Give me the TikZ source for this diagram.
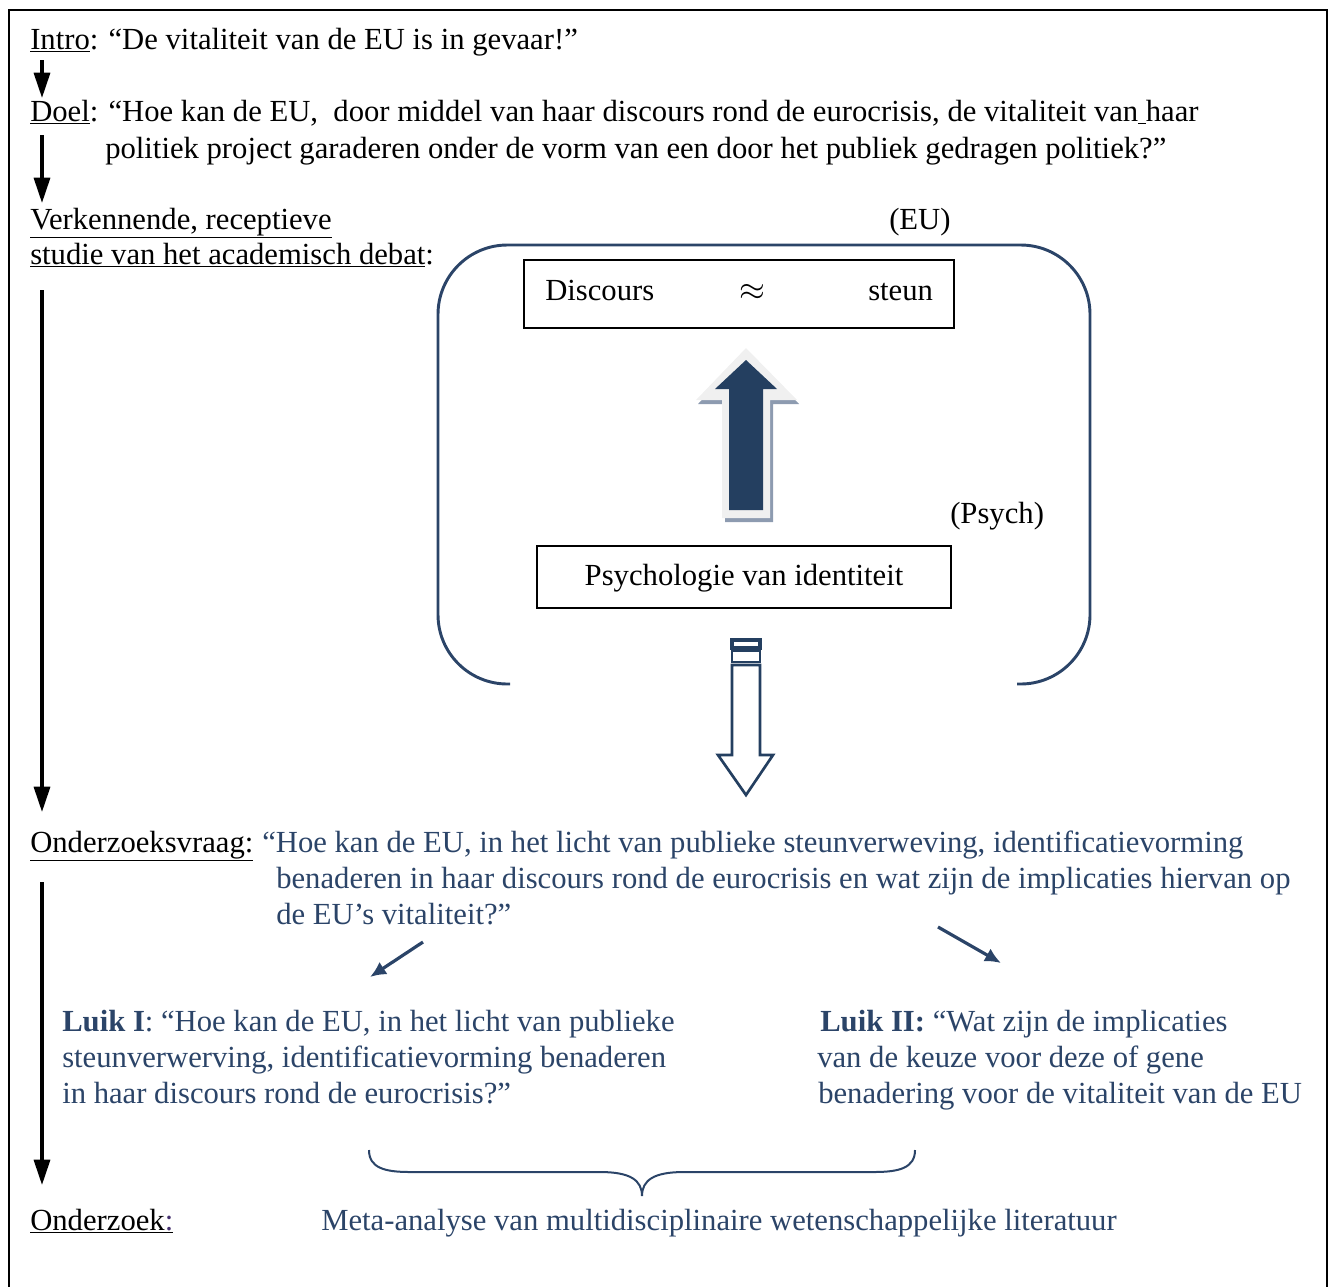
\documentclass[tikz,border=0pt]{standalone}
\usepackage{fontspec}
\setmainfont{Liberation Serif}
\usetikzlibrary{arrows.meta}
\definecolor{eublue}{HTML}{2B4468}
\definecolor{eudark}{HTML}{243F60}
\definecolor{eushadow}{HTML}{8D9BB0}
\definecolor{eulight}{HTML}{F0F0F0}
\newcommand{\txtsize}{\fontsize{23}{27}\selectfont}
\begin{document}
\begin{tikzpicture}[x=0.75pt,y=-0.75pt,
  txt/.style={anchor=base west,inner sep=0pt,font=\txtsize},
  bluetxt/.style={txt,text=eublue},
  flow/.style={line width=2.5pt,-{Triangle[length=19pt,width=12pt]}},
  bluearrow/.style={eublue,line width=2.4pt,-{Latex[length=12pt,width=11pt]}},
  boxed/.style={draw,line width=1.3pt,inner sep=0pt}]
\useasboundingbox (0,0) rectangle (1333,1286);
\draw[line width=1.4pt] (9,1290) -- (9,10) -- (1327,10) -- (1327,1290);

\node[txt] (intro) at (30,49) {\underline{Intro}: “De vitaliteit van de EU is in gevaar!”};
\node[txt] (doel) at (30,121) {\underline{Doel}: “Hoe kan de EU,\ \ door middel van haar discours rond de eurocrisis, de vitaliteit van\underline{ }haar};
\node[txt] (doel2) at (105,158) {politiek project garaderen onder de vorm van een door het publiek gedragen politiek?”};
\node[txt] (verk) at (30,229) {\underline{Verkennende, receptieve}};
\node[txt] (studie) at (30,264) {\underline{studie van het academisch debat}:};
\node[txt] (eu) at (889,229) {(EU)};
\node[txt] (psych) at (950,523) {(Psych)};

\coordinate (a1) at (42,60);
\coordinate (b1) at (42,98);
\coordinate (a2) at (42,135);
\coordinate (b2) at (42,203);
\coordinate (a3) at (42,290);
\coordinate (b3) at (42,812);
\coordinate (a4) at (42,882);
\coordinate (b4) at (42,1185);
\draw[flow] (a1) -- (b1);
\draw[flow] (a2) -- (b2);
\draw[flow] (a3) -- (b3);
\draw[flow] (a4) -- (b4);

\draw[eublue,line width=2.2pt,rounded corners=52pt] (510,684) -- (438,684) -- (438,245) -- (1090,245) -- (1090,684) -- (1017,684);

\node[boxed,minimum width=322pt,minimum height=51pt] (disc) at (739,294) {};
\node[txt] (discours) at (545,300) {Discours};
\node[txt,anchor=base] (approx) at (752,300) {$\approx$};
\node[txt] (steun) at (868,300) {steun};
\node[boxed,minimum width=310pt,minimum height=46pt] (psy) at (744,577) {};
\node[txt,anchor=base] (psytxt) at (744,585) {Psychologie van identiteit};

\fill[eushadow] (748,352) -- (799,404) -- (773,404) -- (773,522) -- (725,522) -- (725,404) -- (698,404) -- cycle;
\fill[eulight] (746,348) -- (797,400) -- (770,400) -- (770,518) -- (722,518) -- (722,400) -- (696,400) -- cycle;
\fill[eudark] (746,360) -- (777,389) -- (763,389) -- (763,510) -- (729,510) -- (729,389) -- (715,389) -- cycle;

\draw[eudark,line width=2.6pt] (732,640) rectangle (760,648);
\draw[eudark,line width=2pt] (732,651) rectangle (760,662);
\draw[eudark,line width=2pt,fill=white] (732,665) -- (760,665) -- (760,755) -- (773,755) -- (746,795) -- (718,755) -- (732,755) -- cycle;

\node[txt] (ovr) at (30,852) {\underline{Onderzoeksvraag:}};
\node[bluetxt] (ovr1) at (262,852) {“Hoe kan de EU, in het licht van publieke steunverweving, identificatievorming};
\node[bluetxt] (ovr2) at (276,888) {benaderen in haar discours rond de eurocrisis en wat zijn de implicaties hiervan op};
\node[bluetxt] (ovr3) at (276,924) {de EU’s vitaliteit?”};

\coordinate (l1) at (423,942);
\coordinate (l2) at (370,977);
\coordinate (r1) at (938,927);
\coordinate (r2) at (1001,963);
\draw[bluearrow] (l1) -- (l2);
\draw[bluearrow] (r1) -- (r2);

\node[bluetxt] (luik1a) at (62,1031) {\textbf{Luik I}: “Hoe kan de EU, in het licht van publieke};
\node[bluetxt] (luik1b) at (62,1067) {steunverwerving, identificatievorming benaderen};
\node[bluetxt] (luik1c) at (62,1103) {in haar discours rond de eurocrisis?”};
\node[bluetxt] (luik2a) at (820,1031) {\textbf{Luik II:} “Wat zijn de implicaties};
\node[bluetxt] (luik2b) at (817,1067) {van de keuze voor deze of gene};
\node[bluetxt] (luik2c) at (818,1103) {benadering voor de vitaliteit van de EU};

\draw[eublue,line width=1.5pt] (369,1150) .. controls (369,1168) and (385,1172) .. (410,1172) -- (600,1172) .. controls (630,1172) and (642,1180) .. (642,1196) .. controls (642,1180) and (654,1172) .. (684,1172) -- (874,1172) .. controls (899,1172) and (915,1168) .. (915,1150);

\node[txt] (ozk) at (30,1230) {\underline{Onderzoek}\underline{\textcolor{eublue!70!violet}{:}}};
\node[bluetxt] (meta) at (321,1230) {Meta-analyse van multidisciplinaire wetenschappelijke literatuur};
\end{tikzpicture}
\end{document}
